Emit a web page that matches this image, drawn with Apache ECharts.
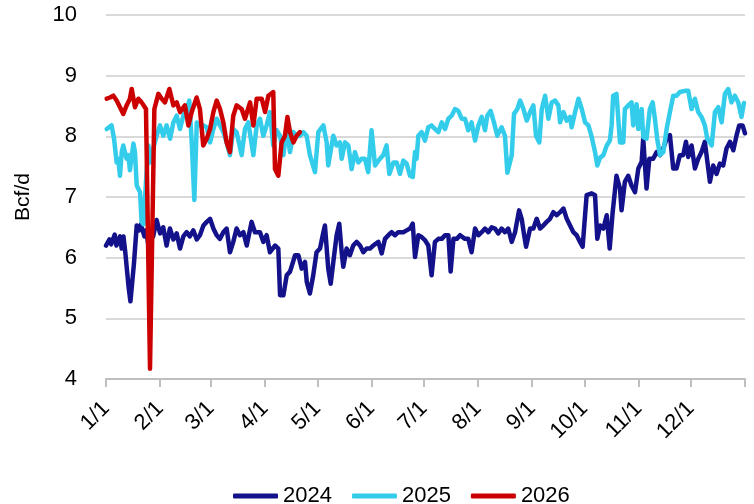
<!DOCTYPE html>
<html>
<head>
<meta charset="utf-8">
<script src="https://cdn.jsdelivr.net/npm/echarts@6/dist/echarts.min.js"></script>
<style>html,body{margin:0;padding:0;background:#fff}#c{width:754px;height:504px}</style>
</head>
<body>
<div id="c"></div>
<script>
// Day-of-year tick positions and labels
const tickDays = [0, 31, 60, 91, 121, 152, 182, 213, 244, 274, 305, 335, 366];
const tickLabels = ['1/1','2/1','3/1','4/1','5/1','6/1','7/1','8/1','9/1','10/1','11/1','12/1',''];
const seriesNames = ['2024', '2025', '2026'];

const days2024 = [0,2,3,5,6,8,9,10,11,13,14,15,16,17.6,19,20,22,23,24.8,26,27,29,31,32.8,34.7,36.6,38.6,40.5,42.4,44.3,46.2,48,50,52,53.8,55.8,57.7,59.6,61.5,63.4,65.3,67.2,69.1,71,72.9,74.8,76.7,78.7,80.6,83.4,85.3,88.2,90.1,92,93.9,96.8,98.7,99.7,101.6,103.5,105.4,108.3,110.2,112.1,114,115,116.8,118.7,120.6,122.6,124.5,125.4,127.3,128.7,130.2,132.1,133.6,135,135.9,137.8,139.7,141.6,143.6,145.5,147.4,149.3,151.2,153.1,156,157.9,159.8,161.7,163.6,165.5,167.4,170.3,172.2,174.1,175.7,177,178.9,180.8,182.7,184.6,186.5,188.4,190.4,192.3,194.2,196.1,197.4,199,200.9,202.8,205.6,207.5,209.4,211.4,213.3,215.2,217.1,219,220.9,222.8,224.7,226.6,228.5,230.4,232.4,234.3,236.6,238.1,239.5,240.6,242.9,244.8,246.7,248.6,250.5,252.4,254.3,256.2,258.2,260.1,262,263.9,265.8,267.7,269.6,271.5,273,274.4,275.3,278.2,280.1,281.4,283,284.9,286.8,288.5,290.2,292.4,294.4,295.3,297.2,299.1,301,303,304.9,306.8,307.7,309.6,311.2,313.4,315.4,317.3,319.2,321.1,323,324.9,326.8,328.7,330.6,332.2,333.5,335.4,337.3,339.2,341.1,343,344,345.9,347.8,349.7,351.6,353.5,355.4,357.4,359.3,361.2,362.7,364.6,366];
const vals2024 = [6.2,6.3,6.22,6.38,6.2,6.35,6.15,6.35,6.1,5.5,5.28,5.3,5.9,6.53,6.45,6.55,6.35,6.45,6.1,6.4,6.35,6.62,6.4,6.5,6.2,6.48,6.3,6.4,6.15,6.35,6.42,6.35,6.45,6.3,6.37,6.53,6.59,6.64,6.48,6.37,6.31,6.42,6.48,6.09,6.26,6.48,6.37,6.42,6.2,6.59,6.42,6.42,6.26,6.37,6.09,6.2,6.15,5.38,5.38,5.71,5.77,6.04,6.04,5.82,5.93,5.6,5.41,5.71,6.09,6.15,6.42,6.53,5.82,5.57,5.93,6.37,6.56,6.09,5.85,6.15,6.04,6.2,6.26,6.2,6.09,6.15,6.15,6.2,6.26,6.07,6.31,6.37,6.42,6.37,6.42,6.42,6.45,6.48,6.56,6.01,6.37,6.34,6.29,6.2,5.71,6.26,6.31,6.31,6.37,6.37,5.77,6.31,6.31,6.37,6.31,6.31,6.09,6.48,6.37,6.42,6.48,6.42,6.5,6.48,6.4,6.48,6.42,6.48,6.26,6.42,6.78,6.64,6.37,6.18,6.48,6.48,6.64,6.48,6.53,6.59,6.64,6.75,6.7,6.75,6.81,6.64,6.53,6.42,6.37,6.26,6.18,6.7,7.03,7.06,7.03,6.31,6.53,6.48,6.7,6.15,6.75,7.35,7.14,6.78,7.25,7.35,7.19,7.08,7.47,7.58,7.96,7.14,7.63,7.63,7.74,7.69,7.8,7.96,8.02,7.47,7.47,7.69,7.69,7.91,7.66,7.85,7.47,7.63,7.74,7.91,7.88,7.25,7.52,7.38,7.55,7.52,7.8,7.91,7.77,8.02,8.18,8.18,8.05];

const days2025 = [0.4,3.2,4.6,6.1,7.1,8,9,9.9,11.8,12.8,13.7,15.7,16.6,17.6,19.5,20.4,21.5,23,24.3,25.2,27.1,29,30.9,32.8,34.7,36.7,38.6,40.5,42.4,44.3,46.2,47.7,49.1,50.6,52,53.8,55.8,57.7,59.6,61.5,63.4,65.3,67.2,69.1,71,72.9,74.8,77.7,79.6,81.5,84.4,86.3,88.2,90.1,92,93.9,95.8,97.7,99.7,101.6,103.5,105.4,107.3,109.2,111.1,113,114.9,116.8,119.7,121.6,124.5,126.4,127.3,130.2,132.1,134,135,136.9,138.8,140.7,142.6,144.5,146.4,148.3,150.2,152.1,154.1,156.9,158.8,160.7,162.3,164.6,166.5,168.4,170.3,172.2,174.1,175.7,177,177.9,178.9,180.8,182.7,184.6,186.5,188.4,190.4,192.3,194.2,196.1,198,199.9,201.8,203.7,205.6,207.5,209.4,211.4,213.3,215.2,217.1,218.4,220.3,222.2,224.1,226.6,228.5,229.9,230.8,232.4,233.7,235.6,237.2,239.1,241,242.9,244.8,246.3,248.2,249.6,251.5,253.4,255.3,257.2,259.1,260.1,262,263.9,265.8,266.7,268.7,270.6,272.5,274.4,276.3,278.2,280.1,281.4,283,284.9,286.8,288.6,289.6,290.5,292.4,294.4,296.3,297.2,299.1,301,302,303.9,304.9,306.8,307.7,309.6,311.5,313.1,314.4,315.7,317.3,319.2,321.1,323,324.9,326.8,328.7,331.6,333.5,335.4,337.3,339.2,341.1,343,344.4,345.9,346.9,348.8,350.7,352.6,354.5,356.4,358.3,360.2,362.1,364,365.4];
const vals2025 = [8.12,8.18,7.96,7.57,7.63,7.35,7.74,7.85,7.63,7.69,7.44,7.88,7.74,7.19,7.08,6.59,6.55,7.3,7.85,7.57,7.8,8.01,8.18,8.01,8.18,7.96,8.23,8.34,8.12,8.34,8.45,8.59,7.9,6.95,8.23,8.18,8.18,8.15,7.9,8.12,8.29,8.18,8.07,7.9,7.69,8.12,8.07,7.69,8.12,8.23,7.69,8.18,8.29,8.01,8.18,8.4,7.85,8.1,8.01,7.69,8.12,7.74,8.07,8.0,8.01,8.07,8.01,7.69,7.41,8.07,8.18,7.9,7.52,8.01,7.85,7.9,7.63,7.9,7.85,7.46,7.74,7.57,7.63,7.63,7.41,8.1,7.52,7.63,7.69,7.85,7.38,7.57,7.57,7.38,7.6,7.55,7.35,7.33,7.74,7.63,8.01,8.07,7.93,8.15,8.18,8.12,8.07,8.23,8.12,8.29,8.34,8.45,8.42,8.29,8.29,8.1,8.23,7.93,8.18,8.32,8.1,8.34,8.42,8.23,8.01,8.15,8.01,7.4,7.38,7.69,8.37,8.45,8.59,8.45,8.26,8.4,8.51,8.01,7.9,8.45,8.67,8.29,8.56,8.59,8.51,8.23,8.4,8.26,8.32,8.15,8.4,8.62,8.45,8.23,8.18,7.99,7.74,7.52,7.65,7.69,7.85,7.93,8.18,8.67,8.7,7.9,7.9,8.45,8.51,8.56,8.18,8.53,8.12,8.45,7.99,7.96,8.45,8.56,8.29,7.96,7.69,7.74,8.12,8.4,8.67,8.67,8.73,8.75,8.75,8.45,8.62,8.4,8.32,8.18,7.96,7.9,7.85,8.4,8.48,8.23,8.7,8.78,8.56,8.67,8.56,8.32,8.55];

const days2026 = [0.4,2.3,4.2,6.1,8,9.9,11.8,13.7,14.7,16.6,18.5,20.4,22.9,25.2,27.7,30,31.9,33.8,36.3,38.6,40.5,42.4,45.2,47.2,49.1,51.9,53.8,55.7,57.7,59.6,61.5,63.4,65.3,67.2,69.1,71,72.9,74.8,77.7,79.6,82.5,84.4,86.3,89.2,91.1,93,95.8,96.8,98.7,100.6,102.5,103.9,105.4,107.3,109.2,111.1];
const vals2026 = [8.62,8.64,8.67,8.59,8.48,8.37,8.51,8.62,8.78,8.48,8.62,8.56,8.45,4.17,8.45,8.7,8.62,8.56,8.78,8.51,8.56,8.4,8.51,8.18,8.4,8.64,8.45,7.85,7.96,8.12,8.4,8.59,8.45,8.23,7.9,7.74,8.34,8.51,8.45,8.29,8.56,8.18,8.62,8.62,8.4,8.67,8.73,7.46,7.35,7.9,8.01,8.32,8.07,7.9,8.01,8.07];

const colors = ['#13128a', '#33cdeb', '#cc0000'];
const FONT = 'Liberation Sans, Arial, sans-serif';

function pairs(d, v) { return d.map((x, i) => [x, v[i]]); }
const allData = [pairs(days2024, vals2024), pairs(days2025, vals2025), pairs(days2026, vals2026)];

const chart = echarts.init(document.getElementById('c'), null, { renderer: 'canvas' });
chart.setOption({
  animation: false,
  backgroundColor: '#ffffff',
  color: colors,
  grid: { left: 106, right: 9, top: 15, bottom: 125, containLabel: false, outerBoundsMode: 'none' },
  legend: {
    data: seriesNames,
    left: 228, top: 480,
    icon: 'roundRect', itemWidth: 45, itemHeight: 5, itemGap: 20,
    textStyle: { fontFamily: FONT, fontSize: 22, color: '#000' }
  },
  xAxis: {
    type: 'value', min: 0, max: 366,
    axisLine: { show: true, lineStyle: { color: '#bfbfbf', width: 2 } },
    axisTick: { show: true, length: 8, lineStyle: { color: '#bfbfbf', width: 2 }, customValues: tickDays },
    axisLabel: {
      customValues: tickDays.slice(0, 12),
      rotate: 45, margin: 26,
      fontFamily: FONT, fontSize: 22, color: '#000',
      formatter: function (v) { const i = tickDays.indexOf(v); return i >= 0 ? tickLabels[i] : ''; }
    },
    splitLine: { show: false }
  },
  yAxis: {
    type: 'value', min: 4, max: 10, interval: 1,
    name: 'Bcf/d', nameLocation: 'middle', nameGap: 72, nameRotate: 90,
    nameTextStyle: { fontFamily: FONT, fontSize: 21, color: '#000' },
    axisLine: { show: false }, axisTick: { show: false },
    axisLabel: { margin: 29, fontFamily: FONT, fontSize: 22, color: '#000' },
    splitLine: { show: true, lineStyle: { color: '#d9d9d9', width: 2 } }
  },
  series: seriesNames.map((n, i) => ({
    name: n, type: 'line', data: allData[i],
    symbol: 'none', showSymbol: false, smooth: false,
    lineStyle: { width: 4.5, color: colors[i], join: 'round', cap: 'round' },
    itemStyle: { color: colors[i] },
    z: 2 + i
  }))
});
</script>
</body>
</html>
